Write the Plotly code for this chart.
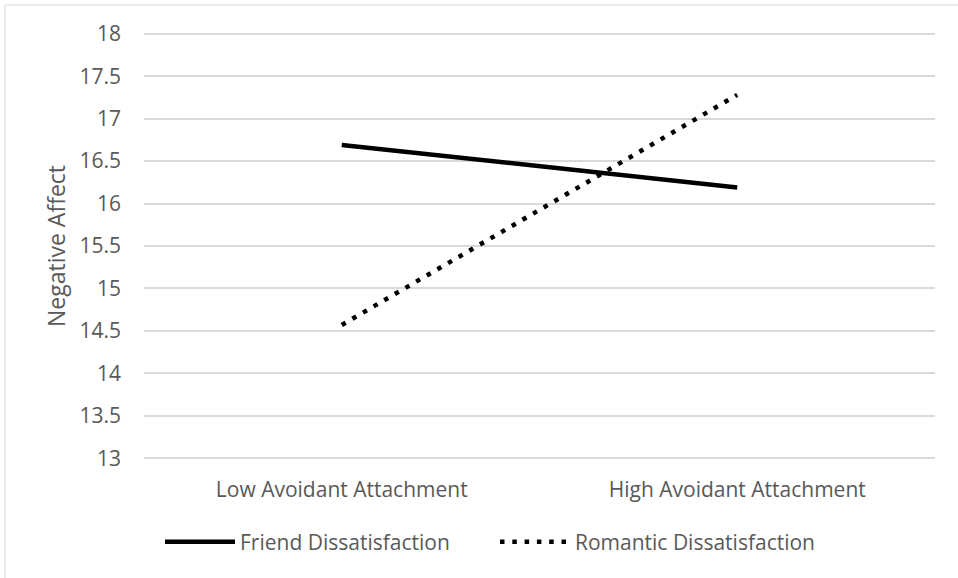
import plotly.graph_objects as go

categories = ["Low Avoidant Attachment", "High Avoidant Attachment"]
friend = [16.69, 16.19]
romantic = [14.57, 17.28]
y_ticks = [13, 13.5, 14, 14.5, 15, 15.5, 16, 16.5, 17, 17.5, 18]
y_tick_labels = ["13", "13.5", "14", "14.5", "15", "15.5", "16", "16.5", "17", "17.5", "18"]

FONT = "Open Sans"
TXT = "#595959"
FS = 21

fig = go.Figure()
fig.add_trace(go.Scatter(x=categories, y=friend, mode="lines", name="Friend Dissatisfaction",
                         line=dict(color="black", width=4.5)))
fig.add_trace(go.Scatter(x=categories, y=romantic, mode="lines", name="Romantic Dissatisfaction",
                         line=dict(color="black", width=4.5, dash="4.5px,7.8px")))

W, H = 958, 578
L, R, T, B = 144, 23, 32, 118
pw = W - L - R
ph = H - T - B

def px2x(px):
    return (px - L) / pw

def px2y(py):
    return (H - B - py) / ph

fig.update_layout(
    width=W, height=H,
    margin=dict(l=L, r=R, t=T, b=B, autoexpand=False),
    paper_bgcolor="white", plot_bgcolor="white",
    font=dict(family=FONT, color=TXT, size=FS),
    showlegend=True,
    legend=dict(orientation="h", x=px2x(160), xanchor="left", y=px2y(542), yanchor="middle",
                font=dict(size=FS, color=TXT, family=FONT), itemwidth=70,
                entrywidth=250, entrywidthmode="pixels",
                bgcolor="rgba(0,0,0,0)", tracegroupgap=0),
    xaxis=dict(type="category", range=[-0.5, 1.5], showgrid=False, zeroline=False,
               showline=False, ticks="", tickfont=dict(size=FS, color=TXT, family=FONT),
               ticklabelstandoff=15),
    yaxis=dict(range=[12.98, 18.02], tickvals=y_ticks, ticktext=y_tick_labels, showgrid=True,
               gridcolor="#d9d9d9", gridwidth=1.5, zeroline=False, showline=False, ticks="",
               tickfont=dict(size=FS, color=TXT, family=FONT), ticklabelstandoff=22,
               title=dict(text="Negative Affect", font=dict(size=23, color=TXT, family=FONT), standoff=7)),
    shapes=[dict(type="rect", xref="paper", yref="paper",
                 x0=px2x(5), x1=px2x(962), y0=px2y(582), y1=px2y(5),
                 line=dict(color="#d9d9d9", width=1), fillcolor="rgba(0,0,0,0)", layer="below")],
)

fig.write_html("out.html", config={"displayModeBar": False},
               post_script="document.body.style.margin='0';document.body.style.overflow='hidden';")
